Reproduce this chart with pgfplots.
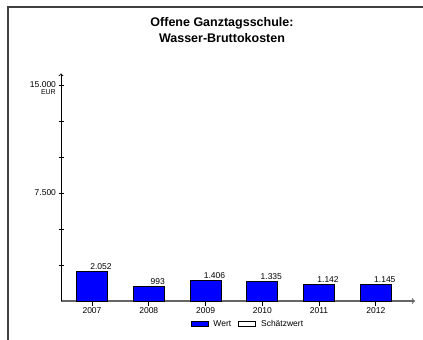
\documentclass[border=0pt]{standalone}
\usepackage{pgfplots}
\pgfplotsset{compat=1.18}
\usepackage{fontspec}
\setmainfont{Liberation Sans}
\begin{document}
\begin{tikzpicture}[x=1pt,y=1pt]
\useasboundingbox (0,0) rectangle (423,340);
\draw[line width=1.3pt, draw=black!75] (8,0) -- (8,333) -- (423,333);
\node[font=\bfseries\fontsize{12.5}{15.5}\selectfont, align=center] at (222,310) {Offene Ganztagsschule:\\Wasser-Bruttokosten};
\begin{axis}[
  at={(61pt,39pt)}, anchor=south west,
  scale only axis, width=354pt, height=227.5pt,
  xmin=-0.546, xmax=5.69, ymin=0, ymax=15800,
  axis lines=left,
  scaled y ticks=false,
  x axis line style={draw=black!60, line width=1.1pt, ->},
  y axis line style={draw=black, line width=0.8pt, ->},
  tick align=center,
  xtick={0,1,2,3,4,5},
  xticklabels={2007,2008,2009,2010,2011,2012},
  ytick={2500,5000,7500,10000,12500,15000},
  yticklabels={,,7.500,,,15.000},
  major tick length=5pt,
  x tick style={draw=black, line width=0.8pt, yshift=-2.5pt},
  y tick style={draw=black, line width=0.6pt},
  tick label style={font=\fontsize{8.5}{10}\selectfont},
  xticklabel style={yshift=-1pt},
  yticklabel style={xshift=1pt},
  /pgf/number format/assume math mode=true,
  /pgf/number format/1000 sep={.},
  bar width=31pt,
  nodes near coords,
  nodes near coords style={font=\fontsize{8.5}{10}\selectfont, xshift=9pt, anchor=south, inner sep=1.5pt},
  legend columns=2,
  legend style={at={(axis description cs:0.528,-0.101)}, anchor=center, draw=none, fill=none,
    font=\fontsize{8.5}{10}\selectfont,
    /tikz/every odd column/.append style={column sep=3pt},
    /tikz/every even column/.append style={column sep=5pt}},
  legend image code/.code={\draw[#1] (0pt,-2pt) rectangle (17pt,3pt);},
  clip=false,
]
\addplot[ybar, fill=blue, draw=black, line width=0.8pt] coordinates {(0,2052) (1,993) (2,1406) (3,1335) (4,1142) (5,1145)};
\addlegendentry{Wert}
\addlegendimage{fill=white, draw=black, line width=0.8pt}
\addlegendentry{Schätzwert}
\node[anchor=north east, font=\fontsize{7}{8}\selectfont, inner sep=0pt] at (axis cs:-0.546,15000) [xshift=-5pt,yshift=-4pt] {EUR};
\end{axis}
\end{tikzpicture}
\end{document}
